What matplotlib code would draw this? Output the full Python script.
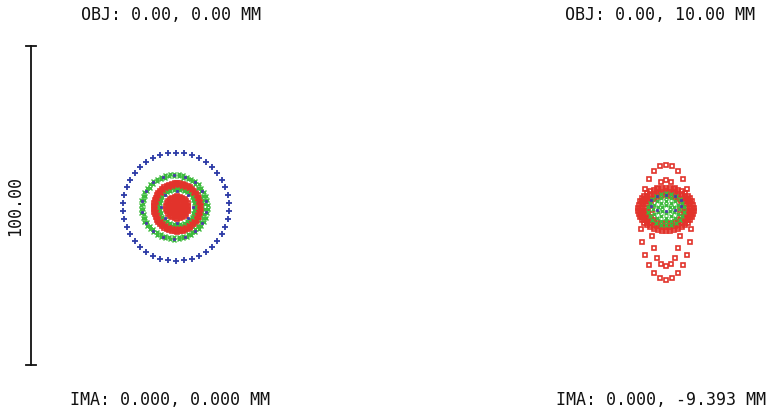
import matplotlib
matplotlib.use("Agg")
import matplotlib.pyplot as plt
import numpy as np

# ---------------------------------------------------------------------------
# Data (micrometres, relative to each plot box centre)
# each ring: (semi_x, semi_y, centre_x, centre_y, n_rays)
# ---------------------------------------------------------------------------
field_titles = ["OBJ: 0.00, 0.00 MM", "OBJ: 0.00, 10.00 MM"]
image_labels = ["IMA: 0.000, 0.000 MM", "IMA: 0.000, -9.393 MM"]
scale_label = "100.00"

# field 1 (on axis)
f1_blue = [(16.6, 17.0, 0.0, -0.4, 42)]
f1_blue_inner = [(10.1, 10.0, -0.6, -0.4, 18), (5.0, 5.0, 0.2, -0.4, 8)]
f1_green = [(10.5, 10.3, -0.6, -0.4, 46), (9.7, 9.6, -0.6, -0.4, 42), (5.5, 5.5, 0.3, -0.4, 32)]
f1_red = [(7.4, 7.6, 0.4, -0.6, 54), (6.9, 7.1, 0.4, -0.6, 50), (6.4, 6.6, 0.4, -0.6, 46),
          (3.5, 3.5, 0.4, -0.6, 26), (2.8, 2.8, 0.4, -0.6, 20), (2.0, 2.0, 0.4, -0.6, 14),
          (1.2, 1.2, 0.4, -0.6, 9), (0.4, 0.4, 0.4, -0.6, 4)]

# field 2 (10 mm object height)
f2_blue = []
f2_blue_inner = [(5.0, 2.6, 0.0, 0.8, 10)]
f2_green = [(5.6, 5.0, 0.0, -1.2, 22), (4.2, 3.8, 0.0, -1.2, 16), (2.8, 2.6, 0.0, -1.2, 10),
            (1.4, 1.3, 0.0, -1.2, 6)]
f2_red = [(7.9, 18.0, 0.0, -5.2, 26), (4.7, 13.5, 0.0, -5.5, 20),
          (8.8, 6.8, 0.0, -1.2, 42), (8.1, 6.2, 0.0, -1.2, 38), (7.4, 5.6, 0.0, -1.2, 34),
          (6.6, 5.0, 0.0, -1.2, 30), (5.9, 4.4, 0.0, -1.2, 26)]

fields = [(f1_blue, f1_blue_inner, f1_green, f1_red),
          (f2_blue, f2_blue_inner, f2_green, f2_red)]

# ---------------------------------------------------------------------------
# Layout (pixels)
# ---------------------------------------------------------------------------
W, H = 770, 415
PX_PER_UM = 3.19
HALF_UM = 30
BOX_CX = [176, 666]
BOX_CY = 205.5
BAR_X, BAR_TOP, BAR_BOT = 31, 46, 365

BLUE = "#2c3aa6"
GREEN = "#3dbb3d"
RED = "#e2332b"
TXT = "#111111"
FONT = "DejaVu Sans Mono"


def ring_points(rings):
    if not rings:
        return np.array([]), np.array([])
    xs, ys = [], []
    for sx, sy, cx, cy, n in rings:
        t = np.linspace(0, 2 * np.pi, n, endpoint=False) + np.pi / 2
        xs.append(cx + sx * np.cos(t))
        ys.append(cy + sy * np.sin(t))
    return np.concatenate(xs), np.concatenate(ys)


fig = plt.figure(figsize=(W / 100, H / 100), dpi=100)

half_px = HALF_UM * PX_PER_UM
for cx, (blue, blue_in, green, red) in zip(BOX_CX, fields):
    ax = fig.add_axes([(cx - half_px) / W, (H - BOX_CY - half_px) / H,
                       2 * half_px / W, 2 * half_px / H])
    ax.set_xlim(-HALF_UM, HALF_UM)
    ax.set_ylim(-HALF_UM, HALF_UM)
    ax.axis("off")
    x, y = ring_points(red)
    ax.plot(x, y, "s", ms=3.3, mfc="none", mec=RED, mew=1.2, ls="none", zorder=1)
    x, y = ring_points(green)
    ax.plot(x, y, "x", ms=2.8, color=GREEN, mew=1.0, ls="none", zorder=2)
    x, y = ring_points(blue)
    ax.plot(x, y, "+", ms=4.0, color=BLUE, mew=1.3, ls="none", zorder=3)
    x, y = ring_points(blue_in)
    ax.plot(x, y, "s", ms=1.6, color="#4a3aa8", mew=0.6, ls="none", zorder=3)

# overlay in pixel coordinates for scale bar and labels
ov = fig.add_axes([0, 0, 1, 1])
ov.set_xlim(0, W)
ov.set_ylim(H, 0)
ov.axis("off")
ov.patch.set_alpha(0)

ov.plot([BAR_X, BAR_X], [BAR_TOP, BAR_BOT], color=TXT, lw=1.3)
ov.plot([BAR_X - 5, BAR_X + 5], [BAR_TOP, BAR_TOP], color=TXT, lw=1.3)
ov.plot([BAR_X - 5, BAR_X + 5], [BAR_BOT, BAR_BOT], color=TXT, lw=1.3)
ov.text(15, 206, scale_label, rotation=90, ha="center", va="center",
        fontsize=12, family=FONT, color=TXT)

title_x = [171, 660]
ima_x = [170, 661]
for tx, ix, t, im in zip(title_x, ima_x, field_titles, image_labels):
    ov.text(tx, 15, t, ha="center", va="center", fontsize=12,
            family=FONT, color=TXT)
    ov.text(ix, 400, im, ha="center", va="center", fontsize=12,
            family=FONT, color=TXT)

fig.savefig("out.png", dpi=100, facecolor="white")
